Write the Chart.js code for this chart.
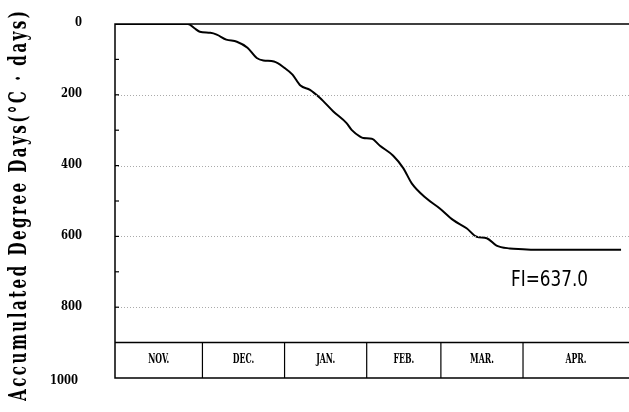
<script src="https://cdn.jsdelivr.net/npm/chart.js@4/dist/chart.umd.min.js"></script>
<style>
  body { margin: 0; background: #fff; }
</style>
<canvas id="canvas" width="629" height="412"></canvas>
<script>
// days counted from the left edge of the plot, accumulated degree days
const days = [0, 27.5, 30, 32, 36, 38.4, 42, 46, 50, 53.5, 56, 60, 64, 67, 70, 73.6, 77.4, 82.4, 87.4, 89.3, 92.5, 93.7, 96.9, 100, 105, 108.8, 112, 117.6, 122.6, 127.7, 132.7, 136.5, 140.3, 144, 149, 154, 158, 191];
const degreeDays = [0, 0, 12, 22, 25, 30, 44, 50, 67, 96, 103, 106, 124, 143, 174, 186, 209, 247, 280, 299, 318, 322, 324, 344, 372, 407, 450, 493, 521, 554, 577, 601, 605, 626, 634, 636, 638, 638];
const months = ["NOV.", "DEC.", "JAN.", "FEB.", "MAR.", "APR."];
const monthStarts = [0, 33, 64, 95, 123, 154, 194];
const yLabels = [0, 200, 400, 600, 800, 1000];
const gridValues = [200, 400, 600, 800];
const fiLabel = "FI=637.0";
const yTitle = "Accumulated Degree Days(°C · days)";

// draw text squeezed horizontally to a given width
function fitText(ctx, s, x, y, w) {
  const m = ctx.measureText(s).width;
  ctx.save();
  ctx.translate(x, y);
  ctx.scale(w / m, 1);
  ctx.fillText(s, 0, 0);
  ctx.restore();
}

const decor = {
  id: 'decor',
  afterDraw(chart) {
    const ctx = chart.ctx;
    const x = chart.scales.x, y = chart.scales.y;
    const L = x.getPixelForValue(0), R = x.getPixelForValue(194);
    ctx.save();
    // dotted grid
    ctx.strokeStyle = '#aaa';
    ctx.lineWidth = 1;
    ctx.setLineDash([1, 2]);
    gridValues.forEach(v => {
      const py = Math.round(y.getPixelForValue(v)) + 0.5;
      ctx.beginPath(); ctx.moveTo(L, py); ctx.lineTo(R, py); ctx.stroke();
    });
    ctx.setLineDash([]);
    // frame
    ctx.strokeStyle = '#000';
    ctx.lineWidth = 1.5;
    const top = y.getPixelForValue(0), bot = y.getPixelForValue(1000), band = y.getPixelForValue(900);
    ctx.beginPath();
    ctx.moveTo(R, top); ctx.lineTo(L, top); ctx.lineTo(L, bot); ctx.lineTo(R, bot);
    ctx.moveTo(L, band); ctx.lineTo(R, band);
    ctx.stroke();
    // inner ticks every 100
    ctx.lineWidth = 1.2;
    for (let v = 100; v <= 800; v += 100) {
      const py = y.getPixelForValue(v);
      ctx.beginPath(); ctx.moveTo(L, py); ctx.lineTo(L + 4, py); ctx.stroke();
    }
    // month band
    ctx.fillStyle = '#000';
    ctx.font = 'bold 12px "DejaVu Serif Condensed", "DejaVu Serif", serif';
    ctx.textAlign = 'left';
    ctx.textBaseline = 'middle';
    months.forEach((m, i) => {
      const a = x.getPixelForValue(monthStarts[i]), b = x.getPixelForValue(monthStarts[i + 1]);
      if (i > 0) { ctx.beginPath(); ctx.moveTo(a, band); ctx.lineTo(a, bot); ctx.stroke(); }
      const w = ctx.measureText(m).width * 0.72;
      fitText(ctx, m, (a + b) / 2 - w / 2, (band + bot) / 2, w);
    });
    // y labels
    ctx.font = 'bold 13px "DejaVu Serif Condensed", "DejaVu Serif", serif';
    yLabels.forEach(v => {
      const py = y.getPixelForValue(v);
      const s = String(v);
      const w = s.length * 7;
      const right = v === 1000 ? 78 : 82;
      fitText(ctx, s, right - w, py + (v === 1000 ? 3 : -1), w);
    });
    // y title, tall narrow letters spread over the height
    ctx.save();
    ctx.translate(19, 206);
    ctx.rotate(-Math.PI / 2);
    const sx = 0.7;
    ctx.scale(sx, 1);
    ctx.font = 'bold 24px "DejaVu Serif Condensed", "DejaVu Serif", serif';
    ctx.letterSpacing = '0px';
    const tw = ctx.measureText(yTitle).width;
    const gap = (390 / sx - tw) / (yTitle.length - 1);
    ctx.letterSpacing = gap.toFixed(2) + 'px';
    ctx.textAlign = 'left';
    ctx.fillText(yTitle, -195 / sx, 1);
    ctx.restore();
    // FI annotation
    ctx.font = '22px "DejaVu Sans Condensed", "DejaVu Sans", sans-serif';
    ctx.textAlign = 'left';
    fitText(ctx, fiLabel, 511, 280, 77);
    ctx.restore();
  }
};

new Chart(document.getElementById('canvas').getContext('2d'), {
  type: 'line',
  data: {
    datasets: [{
      data: days.map((d, i) => ({ x: d, y: degreeDays[i] })),
      borderColor: '#000',
      borderWidth: 2,
      pointRadius: 0,
      cubicInterpolationMode: 'monotone',
      fill: false
    }]
  },
  options: {
    responsive: false,
    animation: false,
    layout: { padding: { left: 115, top: 24, right: 0, bottom: 34 } },
    plugins: { legend: { display: false }, tooltip: { enabled: false } },
    scales: {
      x: { type: 'linear', min: 0, max: 194, display: false },
      y: { min: 0, max: 1000, reverse: true, display: false }
    }
  },
  plugins: [decor]
});
</script>
